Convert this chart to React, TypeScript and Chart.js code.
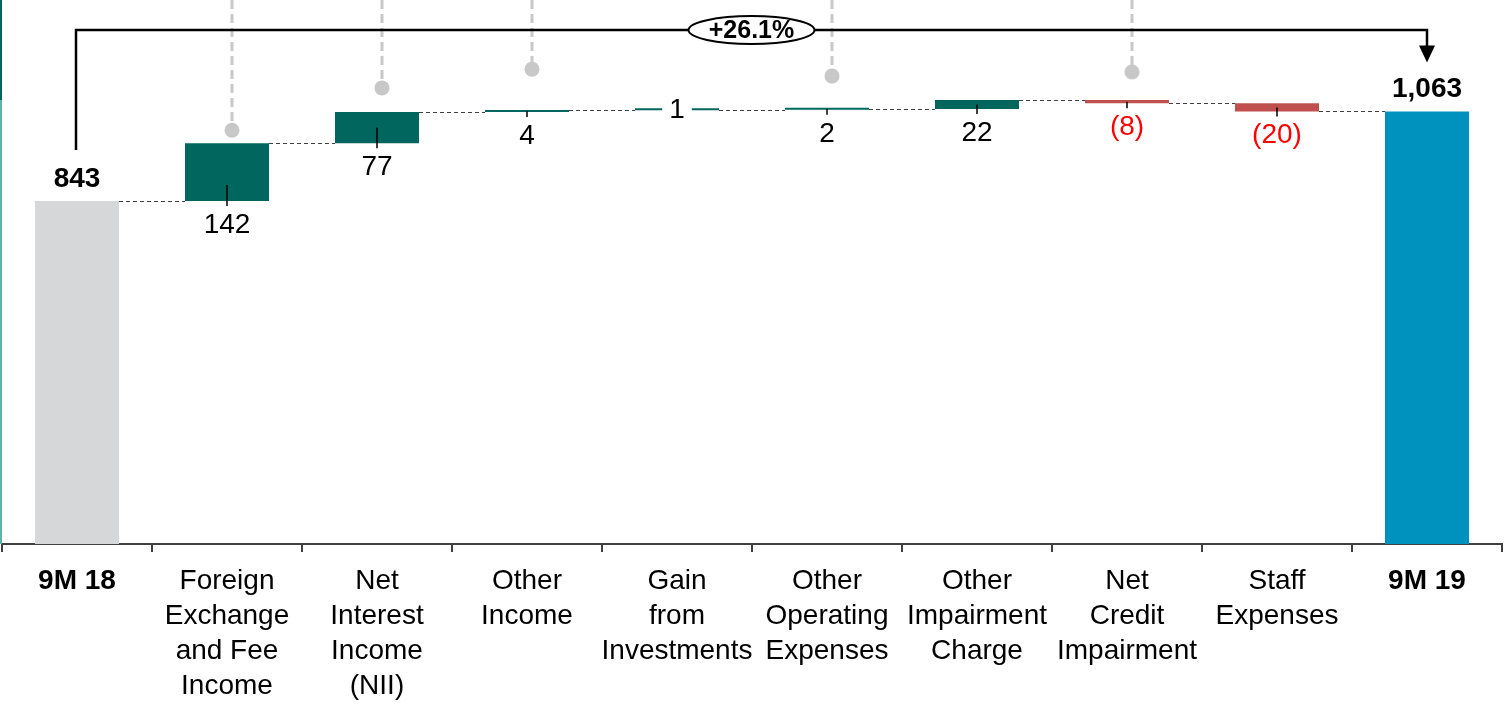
import React, { useEffect, useRef } from 'react';
import { Chart, registerables } from 'chart.js';

Chart.register(...registerables);

const categories: (string | string[])[] = [
  '9M 18',
  ['Foreign', 'Exchange', 'and Fee', 'Income'],
  ['Net', 'Interest', 'Income', '(NII)'],
  ['Other', 'Income'],
  ['Gain', 'from', 'Investments'],
  ['Other', 'Operating', 'Expenses'],
  ['Other', 'Impairment', 'Charge'],
  ['Net', 'Credit', 'Impairment'],
  ['Staff', 'Expenses'],
  '9M 19',
];
const changes = [843, 142, 77, 4, 1, 2, 22, -8, -20, 1063];
const isTotal = [true, false, false, false, false, false, false, false, false, true];
const valueLabels = ['843', '142', '77', '4', '1', '2', '22', '(8)', '(20)', '1,063'];
const inlineLabel = [false, false, false, false, true, false, false, false, false, false];
const markerCategories = [1, 2, 3, 5, 7];
const markerLevels = [1017, 1121, 1167, 1150, 1160];
const growthLabel = '+26.1%';
const bracketLevel = 1263;
const yMax = 1337;

const TEAL = '#00665E';
const RED = '#C0504D';
const GREY = '#D6D7D9';
const BLUE = '#0092BF';
const FONT = '"Liberation Sans", Arial, sans-serif';

function buildRanges(): [number, number][] {
  let run = 0;
  return changes.map((v, i) => {
    if (isTotal[i]) {
      run = v;
      return [0, v] as [number, number];
    }
    const s = run;
    run += v;
    return [s, run] as [number, number];
  });
}

const ranges = buildRanges();
const barColors = changes.map((v, i) =>
  isTotal[i] ? (i === 0 ? GREY : BLUE) : v >= 0 ? TEAL : RED
);

const overlayPlugin = {
  id: 'waterfallOverlay',
  beforeDatasetsDraw(chart: any) {
    const ctx = chart.ctx;
    const xs = chart.scales.x;
    const ys = chart.scales.y;
    const area = chart.chartArea;
    ctx.save();
    // left edge strip
    ctx.fillStyle = TEAL;
    ctx.fillRect(0, area.top, 2, 100);
    ctx.fillStyle = '#5FB3AA';
    ctx.fillRect(0, area.top + 100, 2, area.bottom - area.top - 100);
    // gray dashed markers
    ctx.strokeStyle = '#C8C8C8';
    ctx.fillStyle = '#C8C8C8';
    ctx.lineWidth = 3;
    ctx.setLineDash([9, 5]);
    markerCategories.forEach((ci, k) => {
      const px = xs.getPixelForValue(ci) + 5;
      const py = ys.getPixelForValue(markerLevels[k]);
      ctx.beginPath();
      ctx.moveTo(px, area.top);
      ctx.lineTo(px, py);
      ctx.stroke();
      ctx.beginPath();
      ctx.arc(px, py, 7.5, 0, Math.PI * 2);
      ctx.fill();
    });
    ctx.setLineDash([]);
    ctx.restore();
  },
  afterDatasetsDraw(chart: any) {
    const ctx = chart.ctx;
    const ys = chart.scales.y;
    const meta = chart.getDatasetMeta(0);
    const bars = meta.data.map((el: any) => el.getProps(['x', 'y', 'base', 'width'], true));
    ctx.save();
    // connectors
    ctx.strokeStyle = '#404040';
    ctx.lineWidth = 1;
    ctx.setLineDash([4, 3]);
    for (let i = 0; i < bars.length - 1; i++) {
      const level = ranges[i][1];
      const py = Math.round(ys.getPixelForValue(level)) + 0.5;
      ctx.beginPath();
      ctx.moveTo(bars[i].x + bars[i].width / 2, py);
      ctx.lineTo(bars[i + 1].x - bars[i + 1].width / 2, py);
      ctx.stroke();
    }
    ctx.setLineDash([]);

    // value labels
    ctx.textAlign = 'center';
    ctx.textBaseline = 'middle';
    bars.forEach((b: any, i: number) => {
      const top = Math.min(b.y, b.base);
      const bottom = Math.max(b.y, b.base);
      const neg = changes[i] < 0;
      if (isTotal[i]) {
        ctx.font = `bold 28px ${FONT}`;
        ctx.fillStyle = '#000';
        ctx.fillText(valueLabels[i], b.x, top - 22);
        return;
      }
      ctx.font = `28px ${FONT}`;
      if (inlineLabel[i]) {
        const w = ctx.measureText(valueLabels[i]).width + 14;
        ctx.fillStyle = '#fff';
        ctx.fillRect(b.x - w / 2, top - 10, w, 22);
        ctx.fillStyle = '#000';
        ctx.fillText(valueLabels[i], b.x, (top + bottom) / 2 + 1);
        return;
      }
      // leader line
      const center = (top + bottom) / 2;
      const start = Math.max(center, bottom - 16);
      ctx.strokeStyle = '#000';
      ctx.lineWidth = 1.5;
      ctx.beginPath();
      ctx.moveTo(b.x, start);
      ctx.lineTo(b.x, bottom + 5);
      ctx.stroke();
      ctx.fillStyle = neg ? '#FF0000' : '#000';
      ctx.fillText(valueLabels[i], b.x, bottom + 24);
    });

    // growth bracket
    const first = bars[0];
    const last = bars[bars.length - 1];
    const by = ys.getPixelForValue(bracketLevel);
    const x0 = first.x - 1;
    const x1 = last.x;
    const startY = Math.min(first.y, first.base) - 51;
    const tipY = Math.min(last.y, last.base) - 49;
    ctx.strokeStyle = '#000';
    ctx.lineWidth = 2.5;
    ctx.beginPath();
    ctx.moveTo(x0, startY);
    ctx.lineTo(x0, by);
    ctx.lineTo(x1, by);
    ctx.lineTo(x1, tipY - 16);
    ctx.stroke();
    ctx.fillStyle = '#000';
    ctx.beginPath();
    ctx.moveTo(x1 - 8, tipY - 17);
    ctx.lineTo(x1 + 8, tipY - 17);
    ctx.lineTo(x1, tipY);
    ctx.closePath();
    ctx.fill();
    // ellipse label
    const ex = (x0 + x1) / 2;
    ctx.beginPath();
    ctx.ellipse(ex, by, 63, 14, 0, 0, Math.PI * 2);
    ctx.fillStyle = '#fff';
    ctx.fill();
    ctx.lineWidth = 2;
    ctx.stroke();
    ctx.fillStyle = '#000';
    ctx.font = `bold 25px ${FONT}`;
    ctx.fillText(growthLabel, ex, by + 1);
    ctx.restore();
  },
};

export default function App() {
  const ref = useRef<HTMLCanvasElement | null>(null);
  useEffect(() => {
    if (!ref.current) return;
    const chart = new Chart(ref.current, {
      type: 'bar',
      data: {
        labels: categories as any,
        datasets: [
          {
            data: ranges as any,
            backgroundColor: barColors,
            borderWidth: 0,
            categoryPercentage: 1,
            barPercentage: 0.56,
            minBarLength: 2,
          },
        ],
      },
      options: {
        responsive: false,
        animation: false,
        devicePixelRatio: 1,
        layout: { padding: { left: 2, right: 7, top: 0, bottom: 0 } },
        plugins: { legend: { display: false }, tooltip: { enabled: false } },
        scales: {
          x: {
            afterFit: (scale: any) => {
              scale.height = 163;
            },
            grid: {
              offset: true,
              drawOnChartArea: false,
              drawTicks: true,
              tickLength: 8,
              color: '#404040',
              lineWidth: 2,
            },
            border: { display: true, color: '#404040', width: 2 },
            ticks: {
              autoSkip: false,
              maxRotation: 0,
              minRotation: 0,
              padding: 12,
              color: '#000',
              font: (c: any) => ({
                family: FONT,
                size: 28,
                lineHeight: 1.25,
                weight: c.index === 0 || c.index === categories.length - 1 ? 'bold' : 'normal',
              }),
            },
          },
          y: {
            display: false,
            min: 0,
            max: yMax,
          },
        },
      },
      plugins: [overlayPlugin],
    });
    return () => chart.destroy();
  }, []);
  return (
    <div style={{ position: 'fixed', left: 0, top: 0, width: 1509, height: 707, background: '#fff' }}>
      <canvas ref={ref} width={1509} height={707} style={{ display: 'block' }} />
    </div>
  );
}
